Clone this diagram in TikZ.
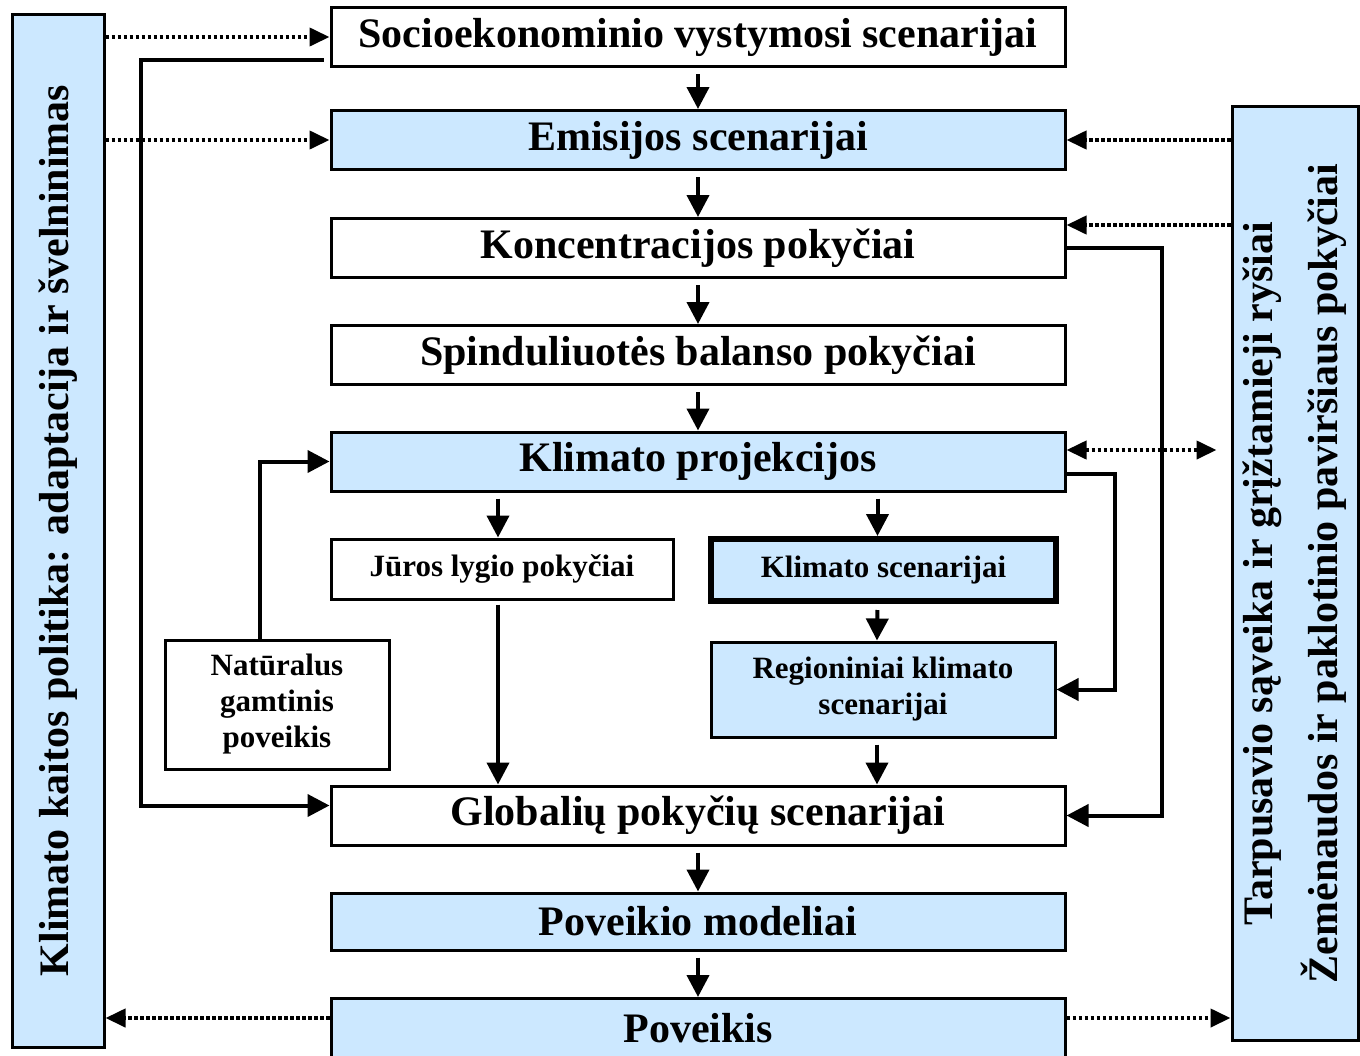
\documentclass[tikz,border=0pt]{standalone}
\usepackage{fontspec}
\setmainfont{Liberation Serif}
\usetikzlibrary{arrows.meta}
\definecolor{paleblue}{RGB}{204,232,255}

\begin{document}
\begin{tikzpicture}[x=0.5pt, y=-0.5pt,
  every node/.style={font=\bfseries\fontsize{21}{25}\selectfont},
  box/.style={draw, line width=1.5pt, minimum width=367pt, minimum height=29.5pt, inner sep=0pt},
  bluebox/.style={box, fill=paleblue},
  smallbox/.style={draw, line width=1.5pt, inner sep=0pt, align=center, font=\bfseries\fontsize{15.5}{18}\selectfont},
  arr/.style={line width=2pt, -{Triangle[length=11pt, width=11pt]}},
  dotarr/.style={line width=2pt, dash pattern=on 1.8pt off 1.2pt, -{Triangle[length=10pt, width=9pt]}}]
  \useasboundingbox (0,0) rectangle (1360,1055);

  \node[box] (soc) at (698,37) {Socioekonominio vystymosi scenarijai};
  \node[bluebox] (emi) at (698,140) {Emisijos scenarijai};
  \node[box] (kon) at (698,248) {Koncentracijos pokyčiai};
  \node[box] (spi) at (698,355) {Spinduliuotės balanso pokyčiai};
  \node[bluebox] (kpr) at (698,461.5) {Klimato projekcijos};
  \node[smallbox, minimum width=171pt, minimum height=30pt] (jur) at (502,569) {Jūros lygio pokyčiai};
  \node[smallbox, fill=paleblue, line width=3pt, minimum width=172.5pt, minimum height=31pt] (ksc) at (883.5,570) {Klimato scenarijai};
  \node[smallbox, fill=paleblue, minimum width=172pt, minimum height=47.5pt] (reg) at (883,689.5) {Regioniniai klimato\\scenarijai};
  \node[smallbox, minimum width=112pt, minimum height=64.5pt] (nat) at (277,704.5) {Natūralus\\gamtinis\\poveikis};
  \node[box] (glo) at (698,815.5) {Globalių pokyčių scenarijai};
  \node[bluebox, minimum height=28.5pt] (pmo) at (698,921.5) {Poveikio modeliai};
  \node[bluebox] (pov) at (698,1028) {Poveikis};

  \node[draw, line width=1.5pt, fill=paleblue, minimum width=46pt, minimum height=516.5pt, inner sep=0pt] (pol) at (58,530.5) {};
  \node[rotate=90] (poltxt) at (pol) {Klimato kaitos politika: adaptacija ir švelninimas};
  \node[draw, line width=1.5pt, fill=paleblue, minimum width=63pt, minimum height=467pt, inner sep=0pt] (tar) at (1295,573.5) {};
  \node[rotate=90, align=center, font=\bfseries\fontsize{21}{32.5}\selectfont] (tartxt) at (tar) {Tarpusavio sąveika ir grįžtamieji ryšiai\\Žemėnaudos ir paklotinio paviršiaus pokyčiai};

  \draw[arr, shorten <=3pt] (soc) -- (emi);
  \draw[arr, shorten <=3pt] (emi) -- (kon);
  \draw[arr, shorten <=3pt] (kon) -- (spi);
  \draw[arr, shorten <=3pt] (spi) -- (kpr);
  \draw[arr, shorten <=3pt] (glo) -- (pmo);
  \draw[arr, shorten <=3pt] (pmo) -- (pov);
  \draw[arr, shorten <=3pt] ([xshift=-2pt]kpr.south -| jur.north) -- ([xshift=-2pt]jur.north);
  \draw[arr, shorten <=3pt] ([xshift=-3pt]kpr.south -| ksc.north) -- ([xshift=-3pt]ksc.north);
  \draw[arr, shorten <=3pt] ([xshift=-3pt]ksc.south) -- ([xshift=-3pt]reg.north);
  \draw[arr, shorten <=3pt] ([xshift=-3pt]reg.south) -- ([xshift=-3pt]reg.south |- glo.north);
  \draw[arr, shorten <=2pt] ([xshift=-2pt]jur.south) -- ([xshift=-2pt]jur.south |- glo.north);

  \draw[arr] ([shift={(-3pt,4pt)}]soc.south west) -- ++(-183,0) |- ([yshift=5pt]glo.west);
  \draw[arr] (kon.east) -- ++(95,0) |- (glo.east);
  \draw[arr] ([yshift=-6pt]kpr.east) -- ++(48,0) |- (reg.east);
  \draw[arr] ([xshift=-8.5pt]nat.north) |- (kpr.west);

  \draw[dotarr] (pol.east |- soc.west) -- (soc.west);
  \draw[dotarr] (pol.east |- emi.west) -- (emi.west);
  \draw[dotarr] ([yshift=5pt]pov.west) -- ([yshift=5pt]pov.west -| pol.east);
  \draw[dotarr] (tar.west |- emi.east) -- (emi.east);
  \draw[dotarr] ([yshift=11.5pt]tar.west |- kon.east) -- ([yshift=11.5pt]kon.east);
  \draw[dotarr, {Triangle[length=10pt, width=9pt]}-{Triangle[length=10pt, width=9pt]}] ([yshift=5.75pt]kpr.east) -- ([shift={(-7pt,5.75pt)}]kpr.east -| tar.west);
  \draw[dotarr] ([yshift=5pt]pov.east) -- ([yshift=5pt]pov.east -| tar.west);
\end{tikzpicture}
\end{document}
